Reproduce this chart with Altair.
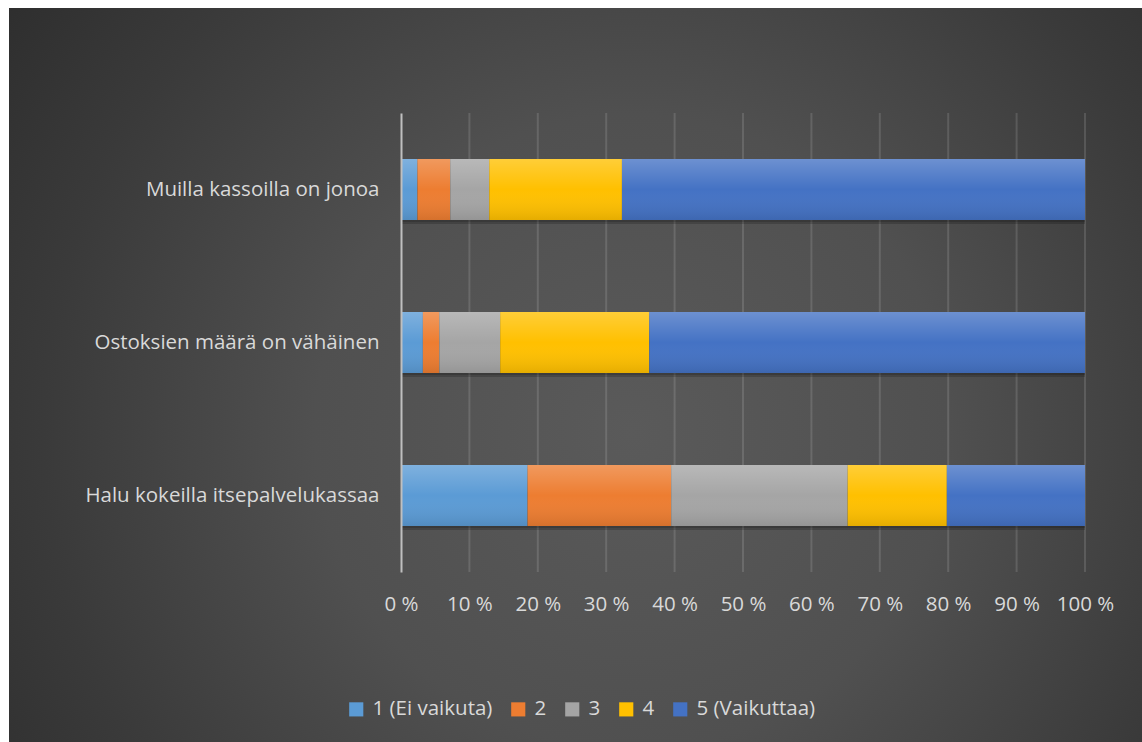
import altair as alt
import pandas as pd

# Survey statements (top to bottom) and response shares in percent
statements = [
    "Muilla kassoilla on jonoa",
    "Ostoksien määrä on vähäinen",
    "Halu kokeilla itsepalvelukassaa",
]
levels = ["1 (Ei vaikuta)", "2", "3", "4", "5 (Vaikuttaa)"]
level_colors = ["#5B9BD5", "#ED7D31", "#A5A5A5", "#FFC000", "#4472C4"]

shares = {
    "Muilla kassoilla on jonoa": [2.4, 4.8, 5.7, 19.4, 67.7],
    "Ostoksien määrä on vähäinen": [3.2, 2.4, 8.9, 21.8, 63.7],
    "Halu kokeilla itsepalvelukassaa": [18.5, 21.0, 25.8, 14.5, 20.2],
}
tick_values = [0, 10, 20, 30, 40, 50, 60, 70, 80, 90, 100]

FONT = "Open Sans"
TEXT = "#D9D9D9"
FS = 20.5

rows = []
for s in statements:
    for i, (lvl, v) in enumerate(zip(levels, shares[s])):
        rows.append({"statement": s, "level": lvl, "rank": i, "share": v})
df = pd.DataFrame(rows)
totals = pd.DataFrame({"statement": statements, "start": 0, "end": 100})
grid_df = pd.DataFrame({"tick": tick_values[1:]})

y_enc = alt.Y(
    "statement:N",
    sort=statements,
    scale=alt.Scale(paddingInner=0.6, paddingOuter=0.3),
    axis=alt.Axis(
        title=None, ticks=False, domain=True, domainColor="#BFBFBF",
        domainWidth=2, labelFont=FONT, labelFontSize=FS, labelColor=TEXT,
        labelPadding=22, zindex=1, labelLimit=400,
    ),
)
x_scale = alt.Scale(domain=[0, 100], nice=False)

# Chart backdrop with a soft radial glow
backdrop = alt.Chart(alt.Data(values=[{}])).mark_rect(
    fill=alt.RadialGradient(
        gradient="radial",
        x1=0.55, y1=0.55, r1=0,
        x2=0.55, y2=0.55, r2=0.8,
        stops=[
            alt.GradientStop(color="#5a5a5a", offset=0),
            alt.GradientStop(color="#505050", offset=0.35),
            alt.GradientStop(color="#3a3a3a", offset=0.65),
            alt.GradientStop(color="#242424", offset=1),
        ],
    )
).encode(
    x=alt.value(-392), x2=alt.value(741), y=alt.value(-105), y2=alt.value(629)
)

# Vertical gridlines
grid = alt.Chart(grid_df).mark_rule(
    stroke="#ffffff", strokeOpacity=0.13, strokeWidth=2
).encode(
    x=alt.X("tick:Q", scale=x_scale), y=alt.value(0), y2=alt.value(459)
)

# Drop shadow beneath each bar
shadow1 = alt.Chart(totals).mark_bar(
    color="#000000", opacity=0.18, yOffset=4
).encode(
    x=alt.X("start:Q", scale=x_scale), x2="end:Q", y=alt.Y("statement:N", sort=statements)
)
shadow2 = alt.Chart(totals).mark_bar(
    color="#000000", opacity=0.15, yOffset=2
).encode(
    x=alt.X("start:Q", scale=x_scale), x2="end:Q", y=alt.Y("statement:N", sort=statements)
)

bars = alt.Chart(df).mark_bar().encode(
    y=y_enc,
    x=alt.X(
        "share:Q",
        stack="zero",
        scale=x_scale,
        axis=alt.Axis(
            title=None, values=tick_values, grid=False, ticks=False, domain=False,
            labelExpr="datum.value + ' %'", labelFont=FONT, labelFontSize=FS,
            labelColor=TEXT, labelPadding=22, zindex=1, labelFlush=False,
        ),
    ),
    order=alt.Order("rank:Q"),
    color=alt.Color(
        "level:N",
        sort=levels,
        scale=alt.Scale(domain=levels, range=level_colors),
        legend=alt.Legend(
            title=None, orient="none", direction="horizontal",
            legendX=-55, legendY=586, symbolType="square", symbolSize=200,
            symbolStrokeWidth=0, labelFont=FONT, labelFontSize=FS,
            labelColor=TEXT, labelOffset=6, columnPadding=15,
        ),
    ),
)

# Soft vertical sheen over the bars
sheen = alt.Chart(totals).mark_bar(
    fill=alt.LinearGradient(
        gradient="linear", x1=0, y1=0, x2=0, y2=1,
        stops=[
            alt.GradientStop(color="rgba(255,255,255,0.22)", offset=0),
            alt.GradientStop(color="rgba(255,255,255,0)", offset=0.5),
            alt.GradientStop(color="rgba(0,0,0,0.10)", offset=1),
        ],
    )
).encode(
    x=alt.X("start:Q", scale=x_scale), x2="end:Q", y=alt.Y("statement:N", sort=statements)
)

chart = alt.layer(backdrop, grid, shadow1, shadow2, bars, sheen).properties(
    width=684,
    height=459,
    padding={"left": 401, "top": 113, "right": 57, "bottom": 170},
    autosize=alt.AutoSizeParams(type="none"),
    background="#ffffff",
).configure_view(stroke=None)

chart.save("out.html", embed_options={"renderer": "svg", "actions": False})
